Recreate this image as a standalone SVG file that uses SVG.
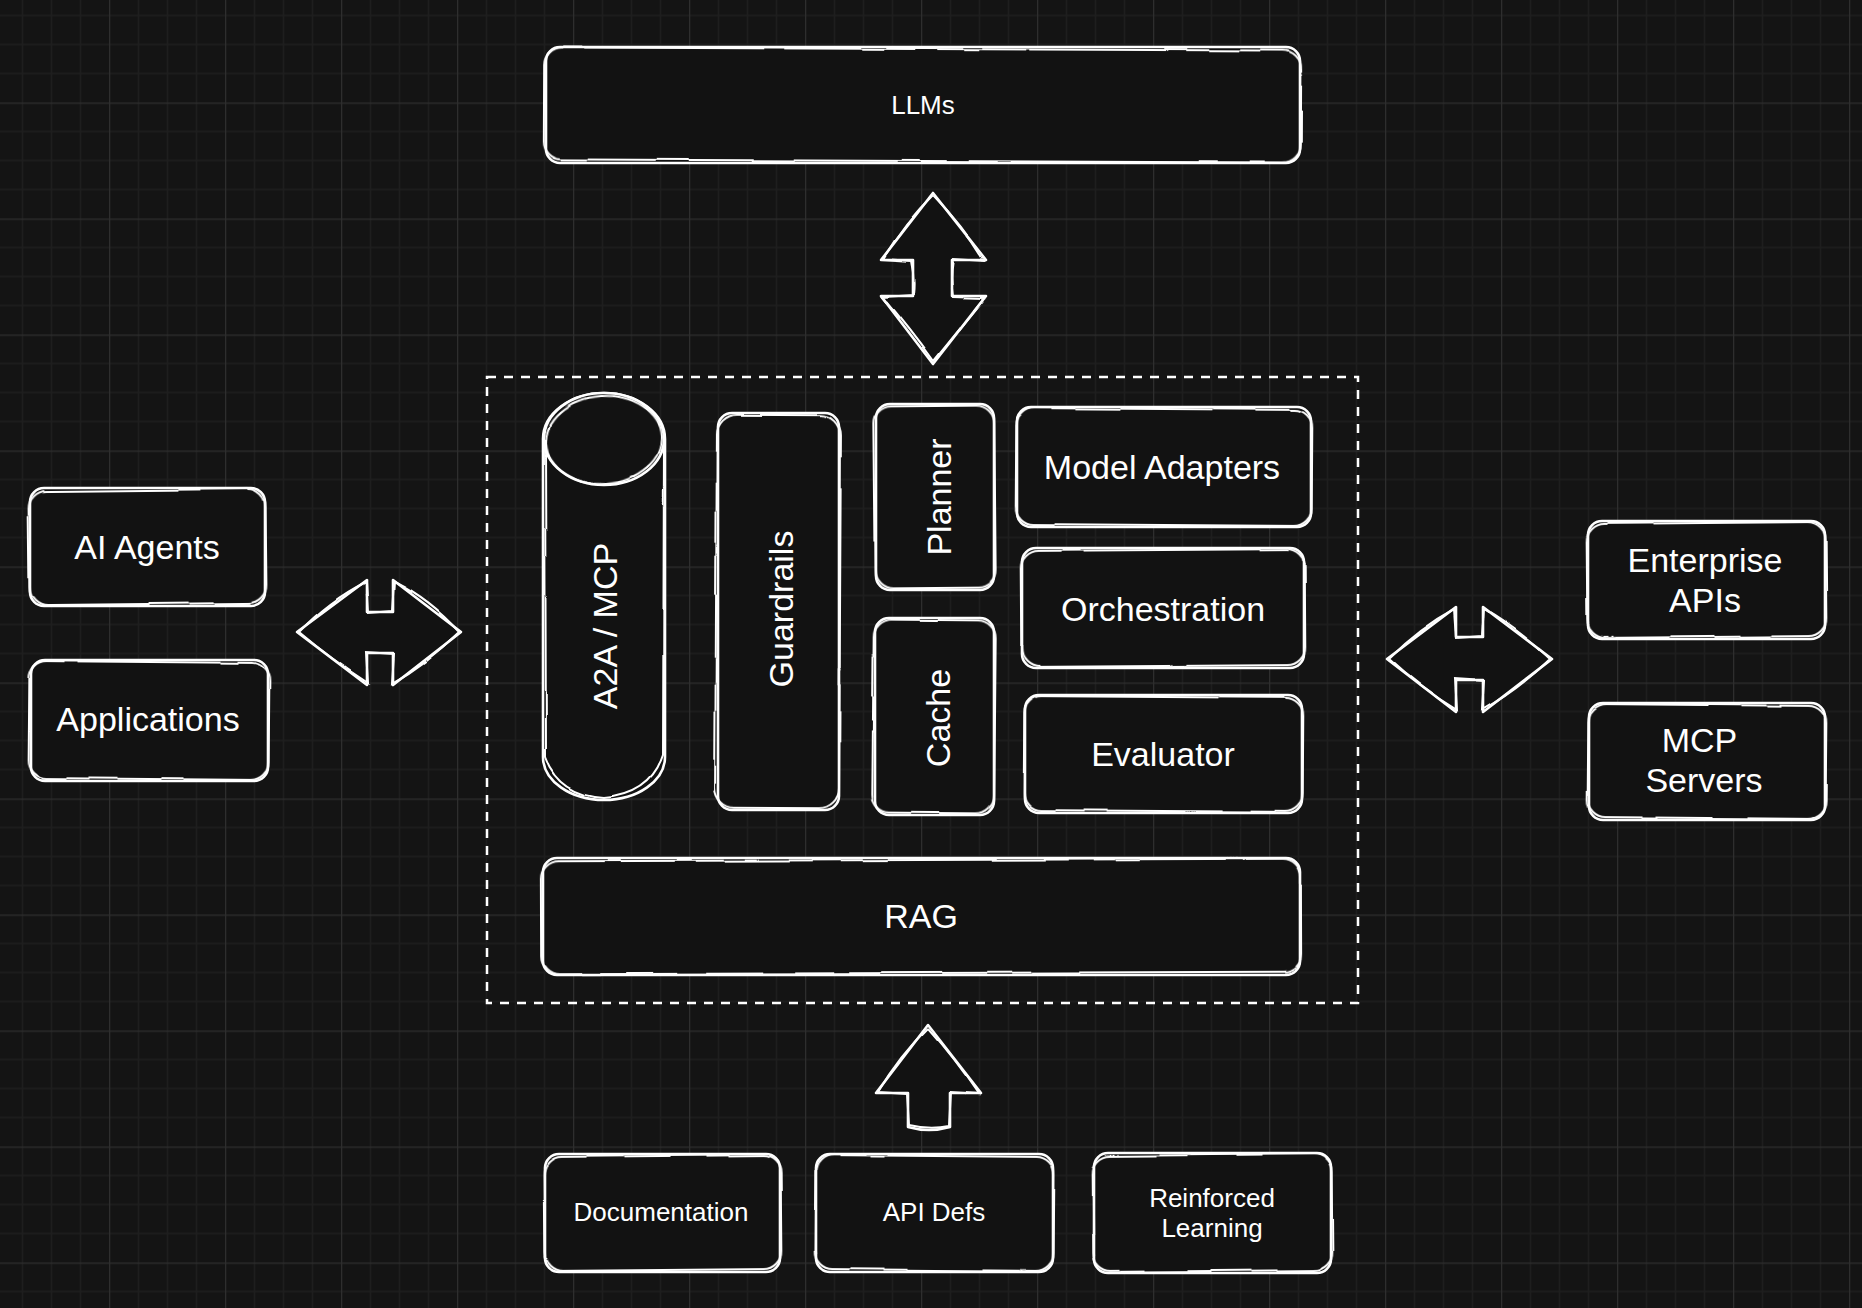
<svg xmlns="http://www.w3.org/2000/svg" width="1862" height="1308" viewBox="0 0 1862 1308">
<defs>
<pattern id="grid" patternUnits="userSpaceOnUse" x="-7" y="-13.5" width="116" height="116">
<rect width="116" height="116" fill="#141414"/>
<path d="M29.5 0V116M58.5 0V116M87.5 0V116M0 29H116M0 58H116M0 87H116" stroke="#1e1e1e" stroke-width="1.5" fill="none"/>
<path d="M0.5 0V116M0 0.5H116" stroke="#2e2e2e" stroke-width="1.5" fill="none"/>
</pattern>
<filter id="rough" x="-10%" y="-10%" width="120%" height="120%">
<feTurbulence type="fractalNoise" baseFrequency="0.02" numOctaves="1" seed="4"/>
<feDisplacementMap in="SourceGraphic" scale="4" xChannelSelector="R" yChannelSelector="G"/>
</filter>
<filter id="rough2" x="-10%" y="-10%" width="120%" height="120%">
<feTurbulence type="fractalNoise" baseFrequency="0.015" numOctaves="1" seed="9"/>
<feDisplacementMap in="SourceGraphic" scale="5" xChannelSelector="G" yChannelSelector="R"/>
</filter>
<style>
.box{fill:#121212;stroke:#ffffff;stroke-width:2.6;stroke-linejoin:round}
.sk{fill:none;stroke:#ffffff;stroke-width:2;filter:url(#rough)}
.sk2{fill:none;stroke:#ffffff;stroke-width:2;filter:url(#rough2)}
.t{font-family:"Liberation Sans",Arial,Helvetica,sans-serif;fill:#ffffff;text-anchor:middle;font-size:34px}
.s{font-size:26px}
.dash{fill:none;stroke:#ffffff;stroke-width:2.5;stroke-dasharray:9 8}
</style>
</defs>
<rect width="1862" height="1308" fill="url(#grid)"/>

<g id="container">
<rect class="dash" x="487" y="377" width="871" height="626"/>
</g>

<g id="connectors">
<g id="arrow-llm">
<path class="box" d="M933 193L986 260L952 260L952 296L986 296L933 364L881 296L913 296L913 260L881 260Z"/>
<path class="sk" d="M933 195Q965 228 984 261L953 259Q950 278 953 297L985 298Q955 335 933 362Q910 330 882 297L914 295Q916 278 912 261L883 259Q905 222 933 195"/>
</g>
<g id="arrow-left">
<path class="box" d="M297 632L367 580L367 612L393 612L393 580L461 632L393 685L393 653L367 653L367 685Z"/>
<path class="sk" d="M299 632Q330 600 366 582L368 613L392 611L394 582Q430 600 459 632Q425 665 392 683L394 654L366 652L368 683Q332 660 299 632"/>
</g>
<g id="arrow-right">
<path class="box" d="M1387 659L1456 607L1456 637L1483 637L1483 607L1552 659L1483 712L1483 680L1456 680L1456 712Z"/>
<path class="sk" d="M1389 659Q1420 628 1455 609L1457 638L1482 636L1484 609Q1520 630 1550 659Q1518 690 1482 710L1484 681L1455 679L1457 710Q1420 688 1389 659"/>
</g>
<g id="arrow-up">
<path class="box" d="M928 1025L981 1093L950 1093L950 1127Q929 1133 908 1127L908 1093L876 1093Z"/>
<path class="sk" d="M928 1028Q955 1058 979 1094L951 1092L949 1126Q930 1130 909 1125L907 1094L878 1092Q900 1055 928 1028"/>
</g>
</g>

<g id="llms">
<rect class="box" x="546" y="47" width="754" height="116" rx="14"/>
<rect class="sk" x="544" y="49" width="757" height="112" rx="18" transform="rotate(0.25 923 105)"/>
<text class="t s" x="923" y="114">LLMs</text>
</g>

<g id="ai-agents">
<rect class="box" x="30" y="488" width="235" height="118" rx="14"/>
<rect class="sk2" x="29" y="490" width="237" height="114" rx="18" transform="rotate(-0.6 147 547)"/>
<text class="t" x="147" y="559">AI Agents</text>
</g>

<g id="applications">
<rect class="box" x="31" y="660" width="237" height="121" rx="14"/>
<rect class="sk" x="29" y="662" width="240" height="117" rx="18" transform="rotate(0.5 149 720)"/>
<text class="t" x="148" y="731">Applications</text>
</g>

<g id="enterprise-apis">
<rect class="box" x="1588" y="521" width="237" height="118" rx="14"/>
<rect class="sk2" x="1587" y="523" width="239" height="114" rx="18" transform="rotate(-0.5 1706 580)"/>
<text class="t" x="1705" y="572">Enterprise</text>
<text class="t" x="1705" y="612">APIs</text>
</g>

<g id="mcp-servers">
<rect class="box" x="1589" y="703" width="236" height="117" rx="14"/>
<rect class="sk" x="1588" y="705" width="238" height="113" rx="18" transform="rotate(0.5 1707 761)"/>
<text class="t" x="1699.5" y="752">MCP</text>
<text class="t" x="1704" y="792">Servers</text>
</g>

<g id="a2a-mcp">
<path class="box" d="M543 439L543 757A61 43 0 0 0 665 757L665 439A61 46 0 0 0 543 439Z"/>
<ellipse class="box" cx="604" cy="439" rx="60" ry="46"/>
<ellipse class="sk" cx="604" cy="440" rx="58" ry="44" transform="rotate(-4 604 440)"/>
<path class="sk2" d="M545 440L546 758Q560 795 604 798Q650 794 663 755L664 442"/>
<text class="t" transform="translate(617 626) rotate(-90)">A2A / MCP</text>
</g>

<g id="guardrails">
<rect class="box" x="718" y="413" width="121" height="397" rx="14"/>
<rect class="sk" x="716" y="415" width="124" height="393" rx="20" transform="rotate(0.3 778 611)"/>
<text class="t" transform="translate(793 609) rotate(-90)">Guardrails</text>
</g>

<g id="planner">
<rect class="box" x="876" y="404" width="118" height="186" rx="14"/>
<rect class="sk2" x="874" y="406" width="121" height="182" rx="18" transform="rotate(-0.5 935 497)"/>
<text class="t" transform="translate(951 497) rotate(-90)">Planner</text>
</g>

<g id="cache">
<rect class="box" x="875" y="618" width="119" height="197" rx="14"/>
<rect class="sk" x="873" y="620" width="122" height="193" rx="18" transform="rotate(0.5 934 716)"/>
<text class="t" transform="translate(949.5 718) rotate(-90)">Cache</text>
</g>

<g id="model-adapters">
<rect class="box" x="1017" y="407" width="294" height="120" rx="14"/>
<rect class="sk2" x="1016" y="409" width="296" height="116" rx="18" transform="rotate(0.4 1164 467)"/>
<text class="t" x="1162" y="479">Model Adapters</text>
</g>

<g id="orchestration">
<rect class="box" x="1022" y="548" width="282" height="120" rx="14"/>
<rect class="sk" x="1021" y="550" width="284" height="116" rx="18" transform="rotate(-0.4 1163 608)"/>
<text class="t" x="1163" y="621">Orchestration</text>
</g>

<g id="evaluator">
<rect class="box" x="1025" y="695" width="277" height="118" rx="14"/>
<rect class="sk2" x="1024" y="697" width="279" height="114" rx="18" transform="rotate(0.4 1163 754)"/>
<text class="t" x="1163" y="766">Evaluator</text>
</g>

<g id="rag">
<rect class="box" x="543" y="858" width="757" height="117" rx="14"/>
<rect class="sk" x="541" y="860" width="760" height="113" rx="18" transform="rotate(-0.2 921 916)"/>
<text class="t" x="921" y="928">RAG</text>
</g>

<g id="documentation">
<rect class="box" x="545" y="1154" width="235" height="118" rx="14"/>
<rect class="sk2" x="544" y="1156" width="237" height="114" rx="18" transform="rotate(-0.5 662 1213)"/>
<text class="t s" x="661" y="1221">Documentation</text>
</g>

<g id="api-defs">
<rect class="box" x="816" y="1154" width="237" height="118" rx="14"/>
<rect class="sk" x="815" y="1156" width="239" height="114" rx="18" transform="rotate(0.5 934 1213)"/>
<text class="t s" x="934" y="1221">API Defs</text>
</g>

<g id="reinforced-learning">
<rect class="box" x="1094" y="1153" width="237" height="120" rx="14"/>
<rect class="sk2" x="1093" y="1155" width="239" height="116" rx="18" transform="rotate(-0.5 1212 1213)"/>
<text class="t s" x="1212" y="1207">Reinforced</text>
<text class="t s" x="1212" y="1237">Learning</text>
</g>
</svg>
